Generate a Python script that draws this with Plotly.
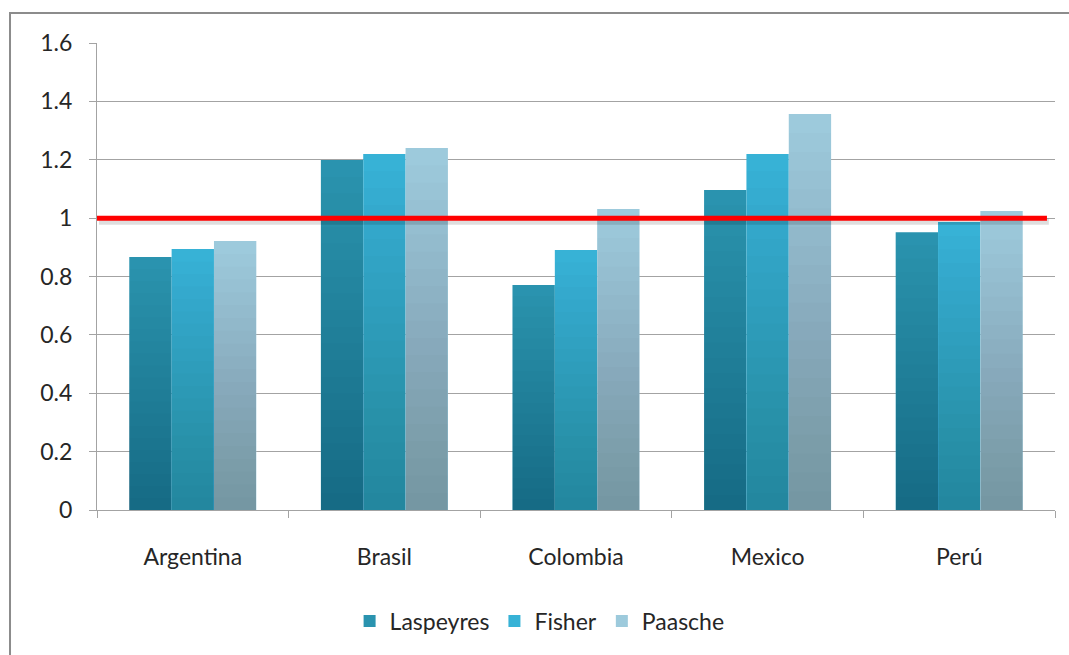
import plotly.graph_objects as go

# Price index comparison by country
countries = ["Argentina", "Brasil", "Colombia", "Mexico", "Perú"]
laspeyres = [0.867, 1.199, 0.771, 1.096, 0.952]
fisher = [0.894, 1.220, 0.891, 1.220, 0.987]
paasche = [0.922, 1.240, 1.031, 1.357, 1.024]
reference_level = 1.0

series = [
    ("Laspeyres", laspeyres, "#2A93AF"),
    ("Fisher", fisher, "#37B2D6"),
    ("Paasche", paasche, "#9DCADC"),
]

FONT = "Lato"
FONT_SIZE = 23
TEXT = "#262626"
GRID = "#A3A3A3"

fig = go.Figure()

# Shade steps: translucent layers stacked from the base give each bar a
# vertical gradient that darkens toward the axis.
SHADE_STEPS = 21
SHADE_ALPHA = 3 / 255

for name, vals, color in series:
    fig.add_trace(go.Bar(
        x=countries, y=vals, name=name, offsetgroup=name,
        marker=dict(color=color, line=dict(width=0)),
    ))
    for k in range(1, SHADE_STEPS):
        frac = k / SHADE_STEPS
        fig.add_trace(go.Bar(
            x=countries, y=[v * frac for v in vals], offsetgroup=name,
            marker=dict(color=f"rgba(20,10,10,{SHADE_ALPHA:.4f})", line=dict(width=0)),
            showlegend=False, hoverinfo="skip",
        ))

# Horizontal reference line at 1, with a soft shadow underneath
fig.add_shape(type="line", xref="paper", yref="y",
              x0=0.002, x1=0.9936, y0=reference_level - 0.012,
              y1=reference_level - 0.012,
              line=dict(color="rgba(0,0,0,0.13)", width=6), layer="above")
fig.add_shape(type="line", xref="paper", yref="y",
              x0=0, x1=0.9916, y0=reference_level, y1=reference_level,
              line=dict(color="#FF0000", width=5), layer="above")

# Chart frame
fig.add_shape(type="rect", xref="paper", yref="paper",
              x0=-0.0908, x1=1.2, y0=-0.6, y1=1.0642,
              line=dict(color="#8C8C8C", width=2), fillcolor="rgba(0,0,0,0)",
              layer="below")

fig.update_layout(
    width=1069, height=655,
    margin=dict(l=97, r=14, t=43, b=145),
    paper_bgcolor="white", plot_bgcolor="white",
    barmode="group", bargap=0.337, bargroupgap=0,
    font=dict(family=FONT, size=FONT_SIZE, color=TEXT),
    legend=dict(orientation="h", x=0.462, xanchor="center",
                y=-0.238, yanchor="middle",
                font=dict(family=FONT, size=FONT_SIZE, color=TEXT),
                itemwidth=30, tracegroupgap=0),
    xaxis=dict(
        type="category", range=[-0.5, 4.5],
        showline=True, linecolor=GRID, linewidth=1,
        ticks="outside", tickson="boundaries", ticklen=7, tickcolor=GRID,
        showgrid=False, tickfont=dict(size=FONT_SIZE, color=TEXT),
        ticklabelstandoff=26,
    ),
    yaxis=dict(
        range=[0, 1.6], dtick=0.2,
        showline=True, linecolor=GRID, linewidth=1,
        ticks="outside", ticklen=7, tickcolor=GRID,
        showgrid=True, gridcolor=GRID, gridwidth=1,
        zeroline=False, tickfont=dict(size=FONT_SIZE, color=TEXT),
        ticklabelstandoff=12,
    ),
)

fig.write_html("out.html")
